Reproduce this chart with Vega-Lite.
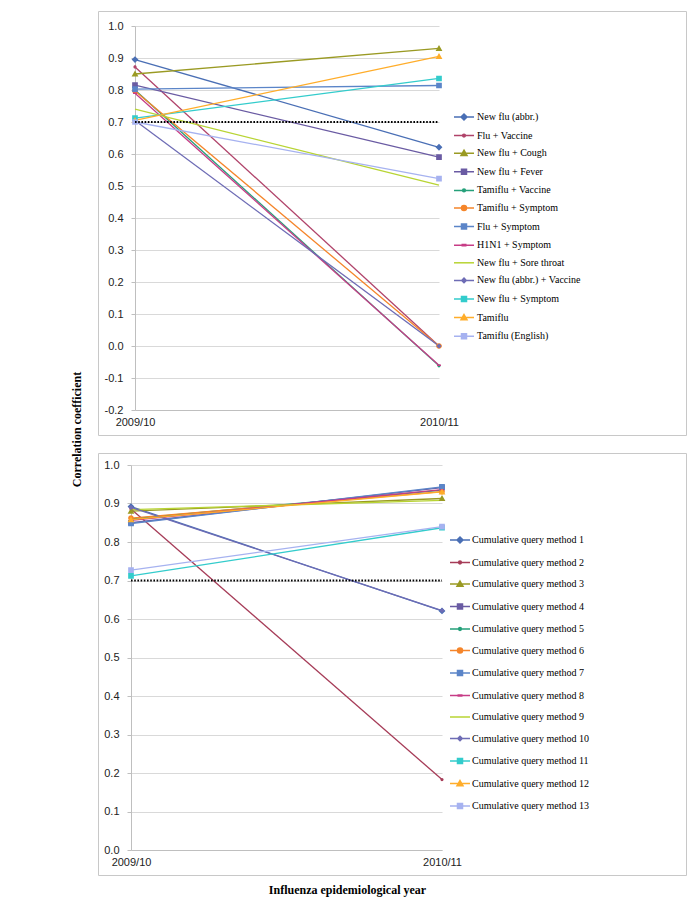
{
  "$schema": "https://vega.github.io/schema/vega-lite/v6.json",
  "padding": {"left": 69, "top": 10, "right": 5, "bottom": 5},
  "autosize": {"type": "pad"},
  "bounds": "flush",
  "spacing": 18,
  "background": "white",
  "datasets": {
    "top": [
      {"series": "New flu (abbr.)", "year": "2009/10", "r": 0.895}, {"series": "New flu (abbr.)", "year": "2010/11", "r": 0.621},
      {"series": "Flu + Vaccine", "year": "2009/10", "r": 0.872}, {"series": "Flu + Vaccine", "year": "2010/11", "r": 0.0},
      {"series": "New flu + Cough", "year": "2009/10", "r": 0.85}, {"series": "New flu + Cough", "year": "2010/11", "r": 0.93},
      {"series": "New flu + Fever", "year": "2009/10", "r": 0.815}, {"series": "New flu + Fever", "year": "2010/11", "r": 0.59},
      {"series": "Tamiflu + Vaccine", "year": "2009/10", "r": 0.8}, {"series": "Tamiflu + Vaccine", "year": "2010/11", "r": -0.062},
      {"series": "Tamiflu + Symptom", "year": "2009/10", "r": 0.797}, {"series": "Tamiflu + Symptom", "year": "2010/11", "r": 0.0},
      {"series": "Flu + Symptom", "year": "2009/10", "r": 0.803}, {"series": "Flu + Symptom", "year": "2010/11", "r": 0.814},
      {"series": "H1N1 + Symptom", "year": "2009/10", "r": 0.79}, {"series": "H1N1 + Symptom", "year": "2010/11", "r": -0.06},
      {"series": "New flu + Sore throat", "year": "2009/10", "r": 0.74}, {"series": "New flu + Sore throat", "year": "2010/11", "r": 0.503},
      {"series": "New flu (abbr.) + Vaccine", "year": "2009/10", "r": 0.705}, {"series": "New flu (abbr.) + Vaccine", "year": "2010/11", "r": 0.0},
      {"series": "New flu + Symptom", "year": "2009/10", "r": 0.712}, {"series": "New flu + Symptom", "year": "2010/11", "r": 0.836},
      {"series": "Tamiflu", "year": "2009/10", "r": 0.705}, {"series": "Tamiflu", "year": "2010/11", "r": 0.905},
      {"series": "Tamiflu (English)", "year": "2009/10", "r": 0.7}, {"series": "Tamiflu (English)", "year": "2010/11", "r": 0.523}
    ],
    "bottom": [
      {"series": "Cumulative query method 1", "year": "2009/10", "r": 0.892}, {"series": "Cumulative query method 1", "year": "2010/11", "r": 0.621},
      {"series": "Cumulative query method 2", "year": "2009/10", "r": 0.886}, {"series": "Cumulative query method 2", "year": "2010/11", "r": 0.183},
      {"series": "Cumulative query method 3", "year": "2009/10", "r": 0.88}, {"series": "Cumulative query method 3", "year": "2010/11", "r": 0.913},
      {"series": "Cumulative query method 4", "year": "2009/10", "r": 0.85}, {"series": "Cumulative query method 4", "year": "2010/11", "r": 0.941},
      {"series": "Cumulative query method 5", "year": "2009/10", "r": 0.86}, {"series": "Cumulative query method 5", "year": "2010/11", "r": 0.935},
      {"series": "Cumulative query method 6", "year": "2009/10", "r": 0.862}, {"series": "Cumulative query method 6", "year": "2010/11", "r": 0.931},
      {"series": "Cumulative query method 7", "year": "2009/10", "r": 0.848}, {"series": "Cumulative query method 7", "year": "2010/11", "r": 0.943},
      {"series": "Cumulative query method 8", "year": "2009/10", "r": 0.856}, {"series": "Cumulative query method 8", "year": "2010/11", "r": 0.936},
      {"series": "Cumulative query method 9", "year": "2009/10", "r": 0.884}, {"series": "Cumulative query method 9", "year": "2010/11", "r": 0.908},
      {"series": "Cumulative query method 10", "year": "2009/10", "r": 0.89}, {"series": "Cumulative query method 10", "year": "2010/11", "r": 0.622},
      {"series": "Cumulative query method 11", "year": "2009/10", "r": 0.712}, {"series": "Cumulative query method 11", "year": "2010/11", "r": 0.837},
      {"series": "Cumulative query method 12", "year": "2009/10", "r": 0.858}, {"series": "Cumulative query method 12", "year": "2010/11", "r": 0.93},
      {"series": "Cumulative query method 13", "year": "2009/10", "r": 0.727}, {"series": "Cumulative query method 13", "year": "2010/11", "r": 0.84}
    ]
  },
  "vconcat": [
    {
      "width": 588,
      "height": 424,
      "resolve": {"scale": {"color": "independent"}, "legend": {"color": "independent"}},
      "layer": [
        {
          "data": {"name": "top"},
          "mark": {"type": "line", "strokeWidth": 1.3},
          "encoding": {
            "x": {"field": "year", "type": "nominal", "scale": {"type": "point", "range": [37, 341], "padding": 0},
              "axis": {"title": null, "labelAngle": 0, "offset": -25, "ticks": false, "tickSize": 0, "labelPadding": 6, "grid": false, "domainColor": "#bfbfbf"}},
            "y": {"field": "r", "type": "quantitative", "scale": {"domain": [-0.2, 1.0], "range": [399, 15], "nice": false, "zero": false},
              "axis": {"title": "Correlation coefficient", "values": [-0.2, -0.1, 0, 0.1, 0.2, 0.3, 0.4, 0.5, 0.6, 0.7, 0.8, 0.9, 1.0], "tickCount": 13, "labelOverlap": false,
                "labelExpr": "replace(format(datum.value, '.1f'), '\u2212', '-')", "offset": -37, "grid": true, "gridColor": "#d9d9d9",
                "domainColor": "#bfbfbf", "tickColor": "#bfbfbf", "tickSize": 4, "labelPadding": 8,
                "titleX": -59, "titleY": 418, "titleAngle": -90, "titleAlign": "center", "titleBaseline": "middle",
                "titleFont": "Liberation Serif", "titleFontWeight": "bold", "titleFontSize": 12, "titleColor": "#000000"}},
            "color": {"field": "series", "type": "nominal", "legend": null,
              "scale": {"domain": ["New flu (abbr.)", "Flu + Vaccine", "New flu + Cough", "New flu + Fever", "Tamiflu + Vaccine", "Tamiflu + Symptom", "Flu + Symptom", "H1N1 + Symptom", "New flu + Sore throat", "New flu (abbr.) + Vaccine", "New flu + Symptom", "Tamiflu", "Tamiflu (English)"],
                "range": ["#4A6FB5", "#B0436A", "#9A9A23", "#6A5BA3", "#25A07A", "#F5852A", "#5B85C8", "#C73C86", "#B8D433", "#6E6CB5", "#33CCCC", "#FFAD2A", "#A6B2F0"]}}
          }
        },
        {
          "data": {"name": "top"},
          "mark": {"type": "point", "filled": true, "size": 130, "strokeWidth": 0, "opacity": 1},
          "encoding": {
            "x": {"field": "year", "type": "nominal"},
            "y": {"field": "r", "type": "quantitative"},
            "fill": {"field": "series", "type": "nominal",
              "scale": {"domain": ["New flu (abbr.)", "Flu + Vaccine", "New flu + Cough", "New flu + Fever", "Tamiflu + Vaccine", "Tamiflu + Symptom", "Flu + Symptom", "H1N1 + Symptom", "New flu + Sore throat", "New flu (abbr.) + Vaccine", "New flu + Symptom", "Tamiflu", "Tamiflu (English)"],
                "range": ["#4A6FB5", "#B0436A", "#9A9A23", "#6A5BA3", "#25A07A", "#F5852A", "#5B85C8", "#C73C86", "#B8D433", "#6E6CB5", "#33CCCC", "#FFAD2A", "#A6B2F0"]},
              "legend": {"title": null, "orient": "none", "legendX": 360, "legendY": 100, "rowPadding": 6.6, "labelOffset": 7, "symbolSize": 100, "symbolOpacity": 1,
                "encode": {"symbols": {"update": {"strokeWidth": {"value": 1.5}, "strokeOpacity": {"value": 1}, "opacity": {"value": 1}}}}}},
            "stroke": {"field": "series", "type": "nominal",
              "scale": {"domain": ["New flu (abbr.)", "Flu + Vaccine", "New flu + Cough", "New flu + Fever", "Tamiflu + Vaccine", "Tamiflu + Symptom", "Flu + Symptom", "H1N1 + Symptom", "New flu + Sore throat", "New flu (abbr.) + Vaccine", "New flu + Symptom", "Tamiflu", "Tamiflu (English)"],
                "range": ["#4A6FB5", "#B0436A", "#9A9A23", "#6A5BA3", "#25A07A", "#F5852A", "#5B85C8", "#C73C86", "#B8D433", "#6E6CB5", "#33CCCC", "#FFAD2A", "#A6B2F0"]},
              "legend": {"title": null, "orient": "none", "legendX": 360, "legendY": 100, "rowPadding": 6.6, "labelOffset": 7, "symbolSize": 100, "symbolOpacity": 1,
                "encode": {"symbols": {"update": {"strokeWidth": {"value": 1.5}, "strokeOpacity": {"value": 1}, "opacity": {"value": 1}}}}}},
            "shape": {"field": "series", "type": "nominal",
              "scale": {"domain": ["New flu (abbr.)", "Flu + Vaccine", "New flu + Cough", "New flu + Fever", "Tamiflu + Vaccine", "Tamiflu + Symptom", "Flu + Symptom", "H1N1 + Symptom", "New flu + Sore throat", "New flu (abbr.) + Vaccine", "New flu + Symptom", "Tamiflu", "Tamiflu (English)"],
                "range": ["M-2,0H2M0,-0.6L0.6,0L0,0.6L-0.6,0Z", "M-2,0H2M-0.28,0A0.28,0.28 0 1,0 0.28,0A0.28,0.28 0 1,0 -0.28,0Z", "M-2,0H2M0,-0.6L0.6,0.45L-0.6,0.45Z", "M-2,0H2M-0.5,-0.5H0.5V0.5H-0.5Z", "M-2,0H2M-0.28,0A0.28,0.28 0 1,0 0.28,0A0.28,0.28 0 1,0 -0.28,0Z", "M-2,0H2M-0.5,0A0.5,0.5 0 1,0 0.5,0A0.5,0.5 0 1,0 -0.5,0Z", "M-2,0H2M-0.5,-0.5H0.5V0.5H-0.5Z", "M-2,0H2M-0.35,-0.12H0.35V0.12H-0.35Z", "M-2,0H2", "M-2,0H2M0,-0.45L0.45,0L0,0.45L-0.45,0Z", "M-2,0H2M-0.5,-0.5H0.5V0.5H-0.5Z", "M-2,0H2M0,-0.6L0.6,0.45L-0.6,0.45Z", "M-2,0H2M-0.5,-0.5H0.5V0.5H-0.5Z"]},
              "legend": {"title": null, "orient": "none", "legendX": 360, "legendY": 100, "rowPadding": 6.6, "labelOffset": 7, "symbolSize": 100, "symbolOpacity": 1,
                "encode": {"symbols": {"update": {"strokeWidth": {"value": 1.5}, "strokeOpacity": {"value": 1}, "opacity": {"value": 1}}}}}}
          }
        },
        {
          "data": {"values": [{"r": 0.7, "a": "2009/10", "b": "2010/11"}]},
          "mark": {"type": "rule", "color": "#000000", "strokeWidth": 2, "strokeDash": [1.6, 1.6]},
          "encoding": {
            "x": {"field": "a", "type": "nominal"},
            "x2": {"field": "b"},
            "y": {"field": "r", "type": "quantitative"}
          }
        }
      ]
    },
    {
      "width": 588,
      "height": 422,
      "resolve": {"scale": {"color": "independent"}, "legend": {"color": "independent"}},
      "layer": [
        {
          "data": {"name": "bottom"},
          "mark": {"type": "line", "strokeWidth": 1.3},
          "encoding": {
            "x": {"field": "year", "type": "nominal", "scale": {"type": "point", "range": [33, 344], "padding": 0},
              "axis": {"title": "Influenza epidemiological year", "labelAngle": 0, "offset": -25, "ticks": false, "tickSize": 0, "labelPadding": 6, "grid": false, "domainColor": "#bfbfbf",
                "titleX": 249, "titleY": 39, "titleAlign": "center", "titleBaseline": "middle",
                "titleFont": "Liberation Serif", "titleFontWeight": "bold", "titleFontSize": 12, "titleColor": "#000000"}},
            "y": {"field": "r", "type": "quantitative", "scale": {"domain": [0, 1.0], "range": [397, 12], "nice": false, "zero": false},
              "axis": {"title": null, "values": [0, 0.1, 0.2, 0.3, 0.4, 0.5, 0.6, 0.7, 0.8, 0.9, 1.0], "tickCount": 11, "labelOverlap": false,
                "labelExpr": "format(datum.value, '.1f')", "offset": -33, "grid": true, "gridColor": "#d9d9d9",
                "domainColor": "#bfbfbf", "tickColor": "#bfbfbf", "tickSize": 4, "labelPadding": 8}},
            "color": {"field": "series", "type": "nominal", "legend": null,
              "scale": {"domain": ["Cumulative query method 1", "Cumulative query method 2", "Cumulative query method 3", "Cumulative query method 4", "Cumulative query method 5", "Cumulative query method 6", "Cumulative query method 7", "Cumulative query method 8", "Cumulative query method 9", "Cumulative query method 10", "Cumulative query method 11", "Cumulative query method 12", "Cumulative query method 13"],
                "range": ["#4A6FB5", "#A63C58", "#9A9A23", "#6A5BA3", "#25A07A", "#F5852A", "#5B85C8", "#C73C86", "#B8D433", "#6E6CB5", "#33CCCC", "#FFAD2A", "#A6B2F0"]}}
          }
        },
        {
          "data": {"name": "bottom"},
          "mark": {"type": "point", "filled": true, "size": 130, "strokeWidth": 0, "opacity": 1},
          "encoding": {
            "x": {"field": "year", "type": "nominal"},
            "y": {"field": "r", "type": "quantitative"},
            "fill": {"field": "series", "type": "nominal",
              "scale": {"domain": ["Cumulative query method 1", "Cumulative query method 2", "Cumulative query method 3", "Cumulative query method 4", "Cumulative query method 5", "Cumulative query method 6", "Cumulative query method 7", "Cumulative query method 8", "Cumulative query method 9", "Cumulative query method 10", "Cumulative query method 11", "Cumulative query method 12", "Cumulative query method 13"],
                "range": ["#4A6FB5", "#A63C58", "#9A9A23", "#6A5BA3", "#25A07A", "#F5852A", "#5B85C8", "#C73C86", "#B8D433", "#6E6CB5", "#33CCCC", "#FFAD2A", "#A6B2F0"]},
              "legend": {"title": null, "orient": "none", "legendX": 356, "legendY": 81, "rowPadding": 10.5, "labelOffset": 6, "symbolSize": 100, "symbolOpacity": 1,
                "encode": {"symbols": {"update": {"strokeWidth": {"value": 1.5}, "strokeOpacity": {"value": 1}, "opacity": {"value": 1}}}}}},
            "stroke": {"field": "series", "type": "nominal",
              "scale": {"domain": ["Cumulative query method 1", "Cumulative query method 2", "Cumulative query method 3", "Cumulative query method 4", "Cumulative query method 5", "Cumulative query method 6", "Cumulative query method 7", "Cumulative query method 8", "Cumulative query method 9", "Cumulative query method 10", "Cumulative query method 11", "Cumulative query method 12", "Cumulative query method 13"],
                "range": ["#4A6FB5", "#A63C58", "#9A9A23", "#6A5BA3", "#25A07A", "#F5852A", "#5B85C8", "#C73C86", "#B8D433", "#6E6CB5", "#33CCCC", "#FFAD2A", "#A6B2F0"]},
              "legend": {"title": null, "orient": "none", "legendX": 356, "legendY": 81, "rowPadding": 10.5, "labelOffset": 6, "symbolSize": 100, "symbolOpacity": 1,
                "encode": {"symbols": {"update": {"strokeWidth": {"value": 1.5}, "strokeOpacity": {"value": 1}, "opacity": {"value": 1}}}}}},
            "shape": {"field": "series", "type": "nominal",
              "scale": {"domain": ["Cumulative query method 1", "Cumulative query method 2", "Cumulative query method 3", "Cumulative query method 4", "Cumulative query method 5", "Cumulative query method 6", "Cumulative query method 7", "Cumulative query method 8", "Cumulative query method 9", "Cumulative query method 10", "Cumulative query method 11", "Cumulative query method 12", "Cumulative query method 13"],
                "range": ["M-2,0H2M0,-0.6L0.6,0L0,0.6L-0.6,0Z", "M-2,0H2M-0.28,0A0.28,0.28 0 1,0 0.28,0A0.28,0.28 0 1,0 -0.28,0Z", "M-2,0H2M0,-0.6L0.6,0.45L-0.6,0.45Z", "M-2,0H2M-0.5,-0.5H0.5V0.5H-0.5Z", "M-2,0H2M-0.28,0A0.28,0.28 0 1,0 0.28,0A0.28,0.28 0 1,0 -0.28,0Z", "M-2,0H2M-0.5,0A0.5,0.5 0 1,0 0.5,0A0.5,0.5 0 1,0 -0.5,0Z", "M-2,0H2M-0.5,-0.5H0.5V0.5H-0.5Z", "M-2,0H2M-0.35,-0.12H0.35V0.12H-0.35Z", "M-2,0H2", "M-2,0H2M0,-0.45L0.45,0L0,0.45L-0.45,0Z", "M-2,0H2M-0.5,-0.5H0.5V0.5H-0.5Z", "M-2,0H2M0,-0.6L0.6,0.45L-0.6,0.45Z", "M-2,0H2M-0.5,-0.5H0.5V0.5H-0.5Z"]},
              "legend": {"title": null, "orient": "none", "legendX": 356, "legendY": 81, "rowPadding": 10.5, "labelOffset": 6, "symbolSize": 100, "symbolOpacity": 1,
                "encode": {"symbols": {"update": {"strokeWidth": {"value": 1.5}, "strokeOpacity": {"value": 1}, "opacity": {"value": 1}}}}}}
          }
        },
        {
          "data": {"values": [{"r": 0.7, "a": "2009/10", "b": "2010/11"}]},
          "mark": {"type": "rule", "color": "#000000", "strokeWidth": 2, "strokeDash": [1.6, 1.6]},
          "encoding": {
            "x": {"field": "a", "type": "nominal"},
            "x2": {"field": "b"},
            "y": {"field": "r", "type": "quantitative"}
          }
        }
      ]
    }
  ],
  "resolve": {
    "scale": {"color": "independent", "fill": "independent", "stroke": "independent", "shape": "independent"},
    "legend": {"color": "independent", "fill": "independent", "stroke": "independent", "shape": "independent"}
  },
  "config": {
    "view": {"stroke": "#c8c8c8", "strokeWidth": 1},
    "axis": {"labelFont": "Liberation Sans", "labelFontSize": 11, "labelColor": "#222222"},
    "legend": {"labelFont": "Liberation Serif", "labelFontSize": 10, "labelColor": "#000000", "labelLimit": 300}
  }
}
